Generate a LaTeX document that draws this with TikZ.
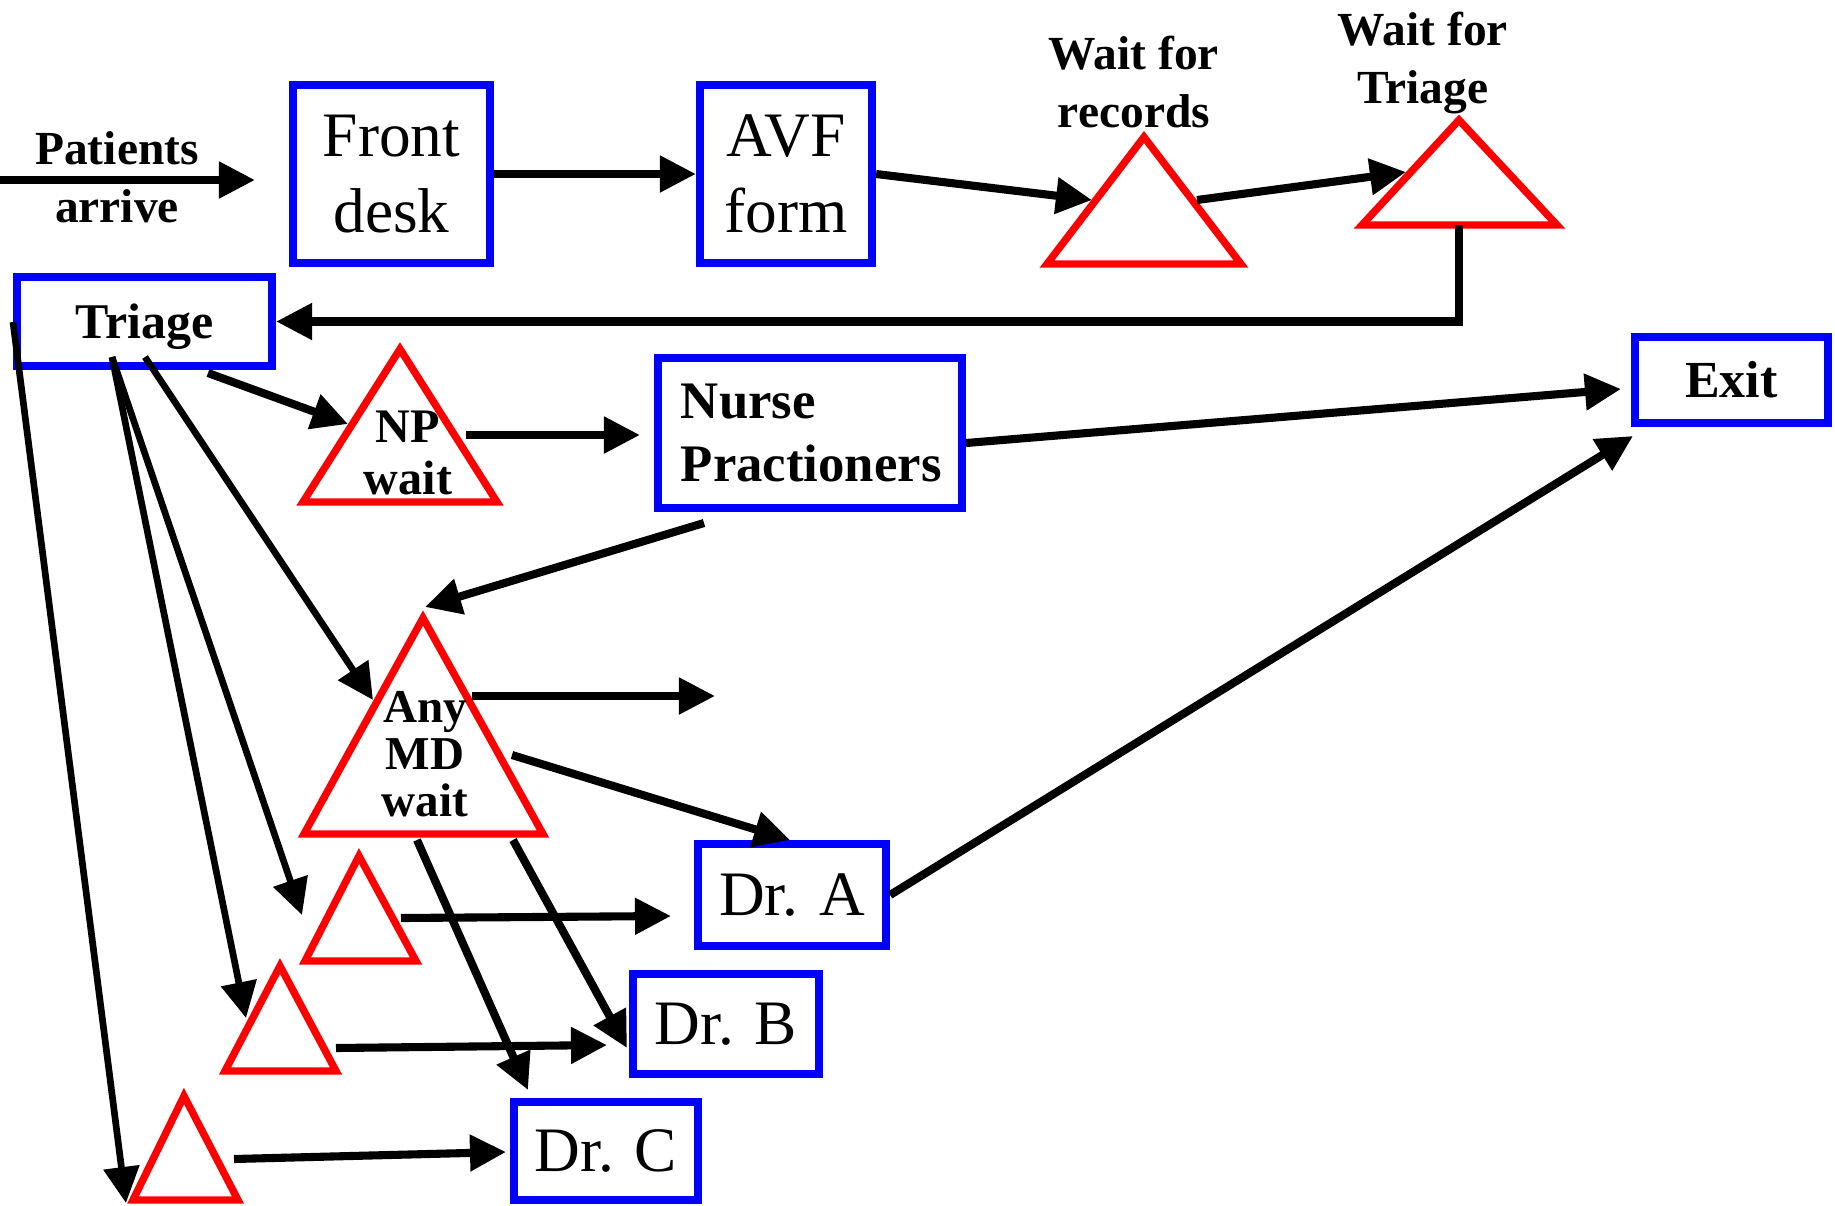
\documentclass[tikz,border=0pt]{standalone}
\usepackage{fontspec}
\setmainfont{Liberation Serif}
\usetikzlibrary{arrows.meta}

\tikzset{
  box/.style={draw=blue, line width=2.3pt, inner sep=0pt, align=center},
  waittri/.style={draw=red, line width=2.1pt},
  flow/.style={line width=2.3pt, -{Triangle[length=0.36cm,width=0.35cm]}},
  fan/.style={flow, line width=1.9pt},
  lbl/.style={font=\bfseries\fontsize{13.5}{16.5}\selectfont, align=center, inner sep=0pt},
  big/.style={font=\fontsize{18}{21.6}\selectfont}
}

\begin{document}
\begin{tikzpicture}[x=0.01cm, y=-0.01cm]
				\useasboundingbox (0,0) rectangle (1835,1205);

				% process boxes
				\node[box, big, minimum width=1.97cm, minimum height=1.78cm] (front) at (391.5,174) {Front\\desk};
				\node[box, big, minimum width=1.72cm, minimum height=1.78cm] (avf) at (786,174) {AVF\\form};
				\node[box, font=\bfseries\fontsize{14.2}{17}\selectfont, minimum width=2.55cm, minimum height=0.89cm, text depth=0pt] (triage) at (144.5,321.5) {Triage};
				\node[box, font=\bfseries\fontsize{15}{17.9}\selectfont, align=left, text width=2.58cm, minimum width=3.04cm, minimum height=1.50cm] (nurse) at (810,433) {Nurse\\Practioners};
				\node[box, font=\bfseries\fontsize{14.8}{17}\selectfont, minimum width=1.93cm, minimum height=0.86cm] (exit) at (1731.5,380) {Exit};
				\node[box, big, minimum width=1.88cm, minimum height=1.02cm] (drA) at (792,895) {Dr. A};
				\node[box, big, minimum width=1.86cm, minimum height=1.00cm] (drB) at (726,1024) {Dr. B};
				\node[box, big, minimum width=1.84cm, minimum height=0.98cm] (drC) at (606,1151) {Dr. C};

				% waiting triangles
				\draw[waittri] (1144,137) -- (1047,264) -- (1241,264) -- cycle;
				\draw[waittri] (1459,120) -- (1362,225) -- (1557,225) -- cycle;
				\draw[waittri] (400,349) -- (303,502) -- (497,502) -- cycle;
				\draw[waittri] (423,618) -- (304,834) -- (543,834) -- cycle;
				\draw[waittri] (359,856) -- (305,961) -- (416,961) -- cycle;
				\draw[waittri] (280,966) -- (225,1071) -- (336,1071) -- cycle;
				\draw[waittri] (184,1096) -- (133,1200) -- (238,1200) -- cycle;

				% labels
				\node[lbl] (inLbl) at (117,177) {Patients\\arrive};
				\node[lbl] (recLbl) at (1134,82) {Wait for\\records};
				\node[lbl] (twLbl) at (1423,63) {Wait for\\Triage};
				\node[lbl, font=\bfseries\fontsize{13.7}{14.8}\selectfont] (npLbl) at (408,453) {NP\\wait};
				\node[lbl, font=\bfseries\fontsize{13.4}{13.4}\selectfont] (mdLbl) at (425,754) {Any\\MD\\wait};

				% connector ends
				\coordinate (inStart) at (0,180);
				\coordinate (inEnd) at (255,180);
				\coordinate (recIn) at (1092,200);
				\coordinate (recOut) at (1197,200);
				\coordinate (twIn) at (1406,172);
				\coordinate (twBase) at (1459,225);
				\coordinate (trNP) at (208,373);
				\coordinate (npIn) at (348,424);
				\coordinate (npOut) at (466,435);
				\coordinate (nurseIn) at (640,435);
				\coordinate (nurseOut) at (966,443);
				\coordinate (exitIn) at (1621,389);
				\coordinate (nurseDown) at (704,523);
				\coordinate (mdTop) at (425,607);
				\coordinate (fanA) at (145,357);
				\coordinate (mdIn) at (373,700);
				\coordinate (fanB) at (112,357);
				\coordinate (t1In) at (302,915);
				\coordinate (t2In) at (246,1018);
				\coordinate (fanC) at (13,322);
				\coordinate (t3In) at (126,1203);
				\coordinate (mdRight) at (472,696);
				\coordinate (mdFree) at (715,696);
				\coordinate (mdToA) at (512,755);
				\coordinate (aIn) at (790,840);
				\coordinate (mdToB) at (513,840);
				\coordinate (bIn) at (627,1048);
				\coordinate (mdToC) at (417,840);
				\coordinate (cIn) at (528,1090);
				\coordinate (t1Out) at (401,918);
				\coordinate (aLeft) at (671,916);
				\coordinate (t2Out) at (336,1048);
				\coordinate (bLeft) at (607,1045);
				\coordinate (t3Out) at (234,1159);
				\coordinate (cLeft) at (506,1152);
				\coordinate (exitLow) at (1633,436);

				% flow
				\draw[flow] (inStart) -- (inEnd);
				\draw[flow] (front.east) -- (avf.west);
				\draw[flow] (avf.east) -- (recIn);
				\draw[flow] (recOut) -- (twIn);
				\draw[flow] (twBase) |- (triage.east);
				\draw[flow] (trNP) -- (npIn);
				\draw[flow] (npOut) -- (nurseIn);
				\draw[flow] (nurseOut) -- (exitIn);
				\draw[flow] (nurseDown) -- (mdTop);
				\draw[fan] (fanA) -- (mdIn);
				\draw[fan] (fanB) -- (t1In);
				\draw[fan] (fanB) -- (t2In);
				\draw[fan] (fanC) -- (t3In);
				\draw[flow] (mdRight) -- (mdFree);
				\draw[flow] (mdToA) -- (aIn);
				\draw[flow] (mdToB) -- (bIn);
				\draw[flow] (mdToC) -- (cIn);
				\draw[flow] (t1Out) -- (aLeft);
				\draw[flow] (t2Out) -- (bLeft);
				\draw[flow] (t3Out) -- (cLeft);
				\draw[flow] (drA.east) -- (exitLow);

\end{tikzpicture}
\end{document}
